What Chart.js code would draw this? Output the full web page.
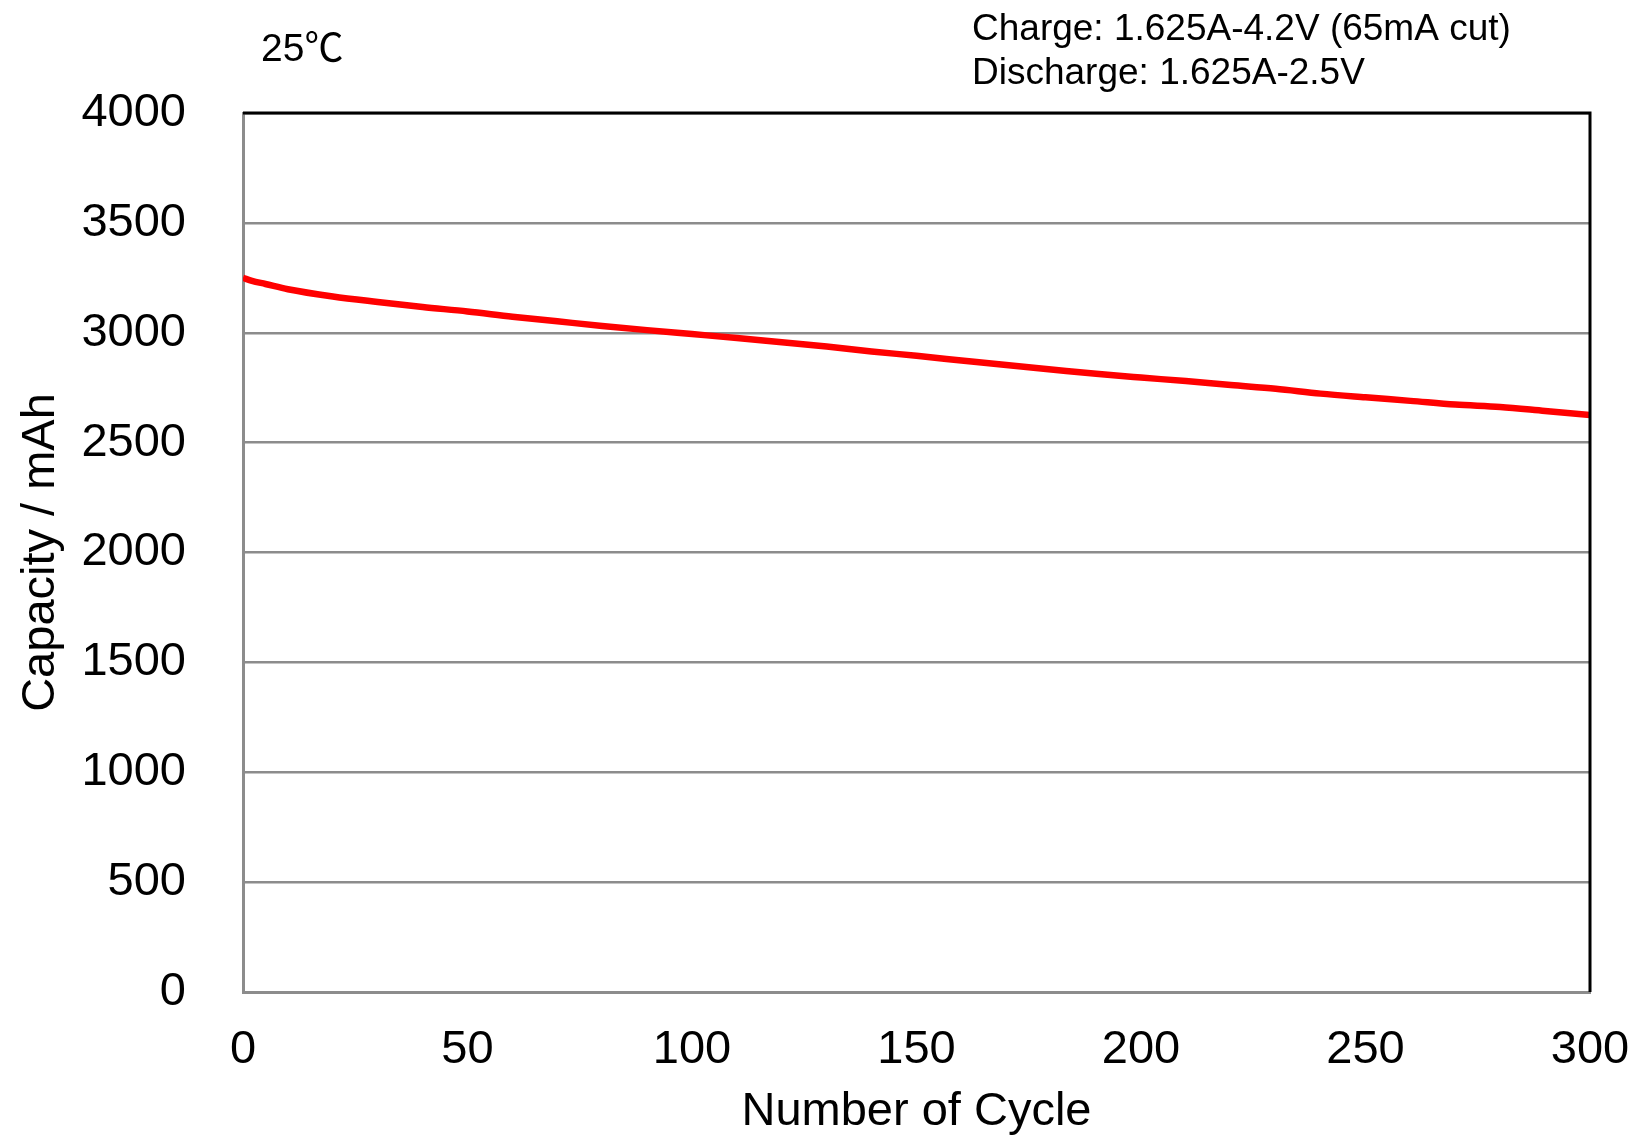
<!DOCTYPE html>
<html>
<head>
<meta charset="utf-8">
<script src="https://cdn.jsdelivr.net/npm/chart.js@4.4.1/dist/chart.umd.min.js"></script>
<style>
  html, body { margin: 0; padding: 0; background: #fff; }
  #wrap { width: 1637px; height: 1139px; }
</style>
</head>
<body>
<div id="wrap"><canvas id="cycleChart"></canvas></div>
<script>
// Cycle life data
const cycles = [0, 2, 5, 10, 20, 30, 40, 50, 60, 70, 80, 90, 100, 110, 120, 130, 140, 150,
  160, 170, 180, 190, 200, 210, 220, 230, 240, 250, 260, 270, 280, 290, 300];
const capacity = [3250, 3236, 3222, 3198, 3165, 3140, 3117, 3097, 3073, 3052, 3031, 3012,
  2994, 2976, 2957, 2937, 2915, 2895, 2874, 2853, 2833, 2813, 2796, 2780, 2762, 2745,
  2723, 2706, 2690, 2673, 2662, 2644, 2626];
const xTicks = [0, 50, 100, 150, 200, 250, 300];
const yTicks = [0, 500, 1000, 1500, 2000, 2500, 3000, 3500, 4000];

const tempLabel = '25\u2103';
const conditionLines = ['Charge: 1.625A-4.2V (65mA cut)', 'Discharge: 1.625A-2.5V'];

const FONT = '"Liberation Sans", Arial, "Noto Sans CJK JP", sans-serif';
const GRID = '#8c8c8c';

// top/right frame in black plus the text notes above the plot
const framePlugin = {
  id: 'frame',
  afterDatasetsDraw(chart) {
    const { ctx, chartArea: a } = chart;
    ctx.save();
    ctx.strokeStyle = '#000';
    ctx.lineWidth = 3;
    ctx.beginPath();
    ctx.moveTo(a.left, a.top);
    ctx.lineTo(a.right, a.top);
    ctx.lineTo(a.right, a.bottom);
    ctx.stroke();
    ctx.restore();
  },
  afterDraw(chart) {
    const { ctx } = chart;
    ctx.save();
    ctx.fillStyle = '#000';
    ctx.textBaseline = 'alphabetic';
    ctx.textAlign = 'left';
    ctx.font = '39px ' + FONT;
    ctx.fillText(tempLabel, 261, 61);
    ctx.font = '37px ' + FONT;
    ctx.fillText(conditionLines[0], 972, 40);
    ctx.fillText(conditionLines[1], 972, 84);
    ctx.restore();
  }
};

new Chart(document.getElementById('cycleChart'), {
  type: 'line',
  data: {
    datasets: [{
      label: 'Capacity',
      data: cycles.map((c, i) => ({ x: c, y: capacity[i] })),
      borderColor: '#ff0000',
      borderWidth: 6.5,
      pointRadius: 0,
      cubicInterpolationMode: 'monotone',
      fill: false
    }]
  },
  options: {
    responsive: true,
    maintainAspectRatio: false,
    animation: false,
    layout: { padding: { left: 18, top: 113, right: 47, bottom: 3 } },
    plugins: {
      legend: { display: false },
      tooltip: { enabled: false }
    },
    scales: {
      x: {
        type: 'linear',
        min: 0,
        max: 300,
        afterBuildTicks: s => { s.ticks = xTicks.map(v => ({ value: v })); },
        grid: { display: false, drawTicks: false },
        border: { color: GRID, width: 3 },
        ticks: { color: '#000', font: { family: FONT, size: 47 }, padding: 30, maxRotation: 0,
          callback: v => String(v) },
        title: {
          display: true,
          text: 'Number of Cycle',
          color: '#000',
          font: { family: FONT, size: 47, lineHeight: 1 },
          padding: { top: 0, bottom: 0 }
        },
        afterFit: s => {
          s.height = 144;
          s.paddingLeft = 0;
          s.paddingRight = 0;
        }
      },
      y: {
        min: 0,
        max: 4000,
        afterBuildTicks: s => { s.ticks = yTicks.map(v => ({ value: v })); },
        grid: { color: GRID, lineWidth: 2.5, drawTicks: false },
        border: { color: GRID, width: 3 },
        ticks: { color: '#000', font: { family: FONT, size: 47 }, padding: 57,
          callback: v => String(v) },
        title: {
          display: true,
          text: 'Capacity / mAh',
          color: '#000',
          font: { family: FONT, size: 47, lineHeight: 1 },
          padding: { top: 0, bottom: 0 }
        },
        afterFit: s => {
          s.width = 225;
          s.paddingTop = 0;
          s.paddingBottom = 0;
        }
      }
    }
  },
  plugins: [framePlugin]
});
</script>
</body>
</html>
